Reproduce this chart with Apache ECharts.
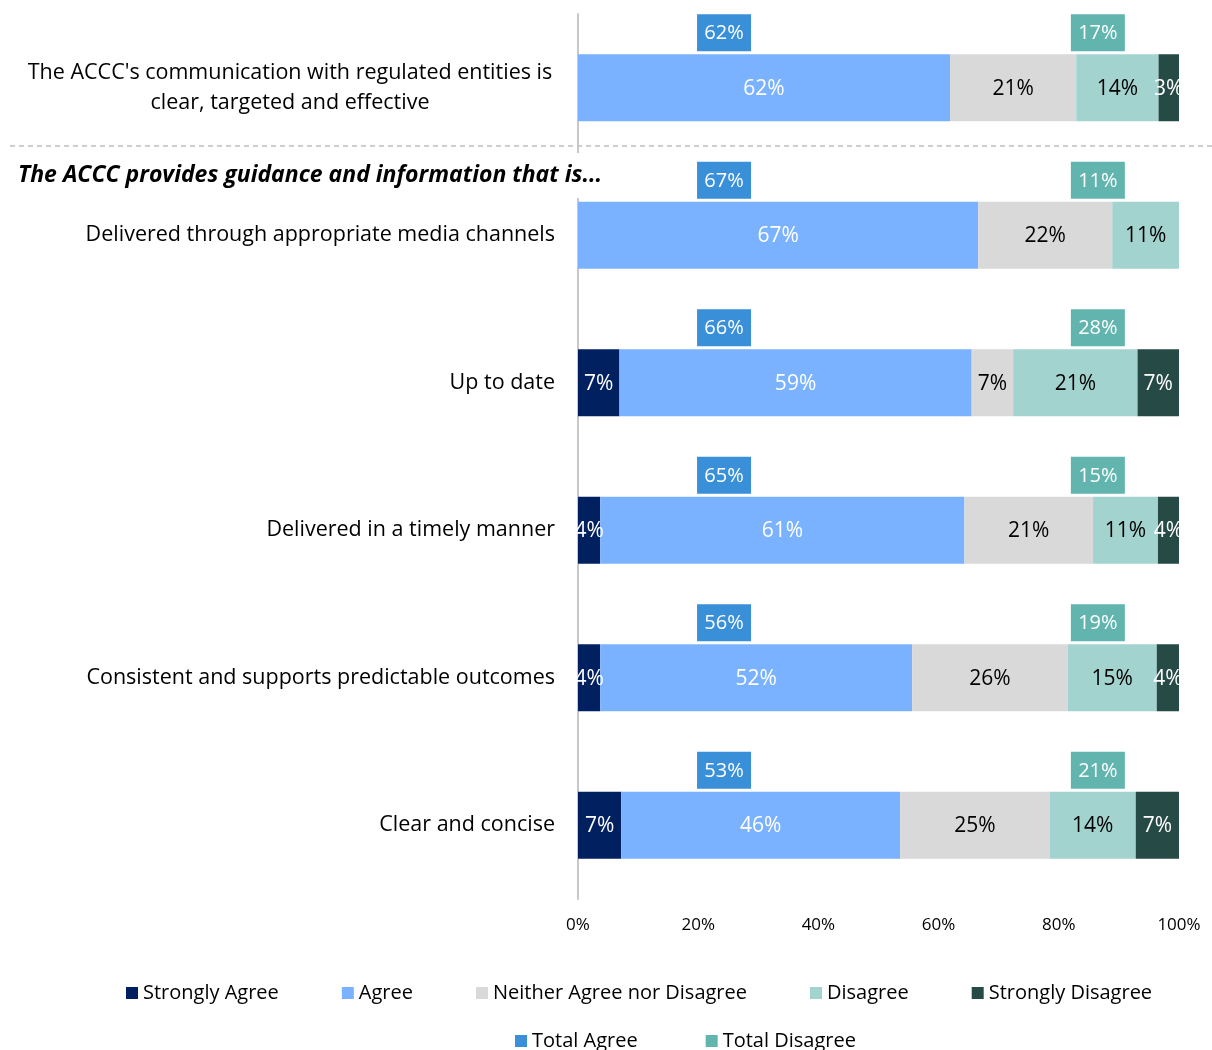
<!DOCTYPE html>
<html>
<head>
<meta charset="utf-8">
<script src="https://cdn.jsdelivr.net/npm/echarts@6/dist/echarts.min.js"></script>
<style>html,body{margin:0;padding:0;background:#fff;}#chart{width:1212px;height:1050px;}</style>
</head>
<body>
<div id="chart"></div>
<script>
// ---- Data ----
var categories = [
  "The ACCC's communication with regulated entities is\nclear, targeted and effective",
  "Delivered through appropriate media channels",
  "Up to date",
  "Delivered in a timely manner",
  "Consistent and supports predictable outcomes",
  "Clear and concise"
];
var stronglyAgree    = [0,    0,    6.9,  3.7,  3.7,  7.2];
var agree            = [61.9, 66.6, 58.6, 60.6, 51.9, 46.4];
var neither          = [21.0, 22.3, 6.9,  21.4, 25.9, 24.9];
var disagree         = [13.7, 11.1, 20.7, 10.8, 14.8, 14.3];
var stronglyDisagree = [3.4,  0,    6.9,  3.5,  3.7,  7.2];
var totalAgree       = [62, 67, 66, 65, 56, 53];
var totalDisagree    = [17, 11, 28, 15, 19, 21];
var xTicks = [0, 20, 40, 60, 80, 100];

var FONT = "Open Sans";
var AGREE_BOX_X = 24.3, DISAGREE_BOX_X = 86.5;

function barLabel(color) {
  return {
    show: true, position: 'inside', color: color, fontFamily: FONT, fontSize: 21, offset: [0, 1],
    formatter: function (p) { return p.value > 0 ? Math.round(p.value) + '%' : ''; }
  };
}
function barSeries(name, data, color, labelColor) {
  return {
    name: name, type: 'bar', stack: 'total', data: data, barWidth: 67,
    itemStyle: { color: color }, label: barLabel(labelColor), emphasis: { disabled: true }
  };
}
function totalSeries(name, data, xPos, color) {
  return {
    name: name, type: 'scatter', symbol: 'rect', symbolSize: [54, 37], symbolOffset: [0, -55],
    itemStyle: { color: color, opacity: 1 },
    data: data.map(function (v, i) { return { value: [xPos, i], total: v }; }),
    label: {
      show: true, position: 'inside', color: '#fff', fontFamily: FONT, fontSize: 20, offset: [0, 1],
      formatter: function (p) { return p.data.total + '%'; }
    },
    emphasis: { disabled: true }, z: 5
  };
}

var chart = echarts.init(document.getElementById('chart'));
chart.setOption({
  animation: false,
  textStyle: { fontFamily: FONT },
  grid: { left: 578, right: 33, top: 14, bottom: 151, containLabel: false },
  xAxis: {
    type: 'value', min: 0, max: 100, interval: 20,
    axisLine: { show: false }, axisTick: { show: false }, splitLine: { show: false },
    axisLabel: { formatter: '{value}%', color: '#000', fontSize: 17, fontFamily: FONT, margin: 18,
      customValues: xTicks }
  },
  yAxis: {
    type: 'category', data: categories, inverse: true,
    axisLine: { show: true, lineStyle: { color: '#C8C8C8', width: 2 } },
    axisTick: { show: false },
    axisLabel: {
      color: '#000', fontSize: 21.5, fontFamily: FONT, margin: 23,
      formatter: function (v) {
        if (v.indexOf('\n') >= 0) {
          return v.split('\n').map(function (l) { return '{c|' + l + '}'; }).join('\n');
        }
        return v;
      },
      rich: { c: { width: 530, align: 'center', fontSize: 21.5, fontFamily: FONT, color: '#000', lineHeight: 30 } }
    }
  },
  legend: [
    {
      data: ['Strongly Agree', 'Agree', 'Neither Agree nor Disagree', 'Disagree', 'Strongly Disagree'],
      left: 121, top: 978, icon: 'rect', itemWidth: 12, itemHeight: 12, itemGap: 63,
      textStyle: { fontSize: 20, color: '#000', fontFamily: FONT }, selectedMode: false
    },
    {
      data: ['Total Agree', 'Total Disagree'],
      left: 510, top: 1026, icon: 'rect', itemWidth: 12, itemHeight: 12, itemGap: 68,
      textStyle: { fontSize: 20, color: '#000', fontFamily: FONT }, selectedMode: false
    }
  ],
  graphic: [
    { type: 'line', shape: { x1: 10, y1: 146, x2: 1212, y2: 146 },
      style: { stroke: '#BFBFBF', lineWidth: 1.5, lineDash: [5, 4] }, z: 100 },
    { type: 'rect', shape: { x: 10, y: 153, width: 610, height: 45 },
      style: { fill: '#fff' }, z: 100 },
    { type: 'text', left: 18, top: 164, z: 101,
      style: { text: 'The ACCC provides guidance and information that is...', fontFamily: FONT,
        fontSize: 23, fontWeight: 'bold', fontStyle: 'italic', fill: '#000' } }
  ],
  series: [
    barSeries('Strongly Agree', stronglyAgree, '#002060', '#fff'),
    barSeries('Agree', agree, '#7AB2FF', '#fff'),
    barSeries('Neither Agree nor Disagree', neither, '#D9D9D9', '#000'),
    barSeries('Disagree', disagree, '#A3D3CF', '#000'),
    barSeries('Strongly Disagree', stronglyDisagree, '#264A45', '#fff'),
    totalSeries('Total Agree', totalAgree, AGREE_BOX_X, '#3A8FD9'),
    totalSeries('Total Disagree', totalDisagree, DISAGREE_BOX_X, '#62B5AE')
  ]
});
</script>
</body>
</html>
